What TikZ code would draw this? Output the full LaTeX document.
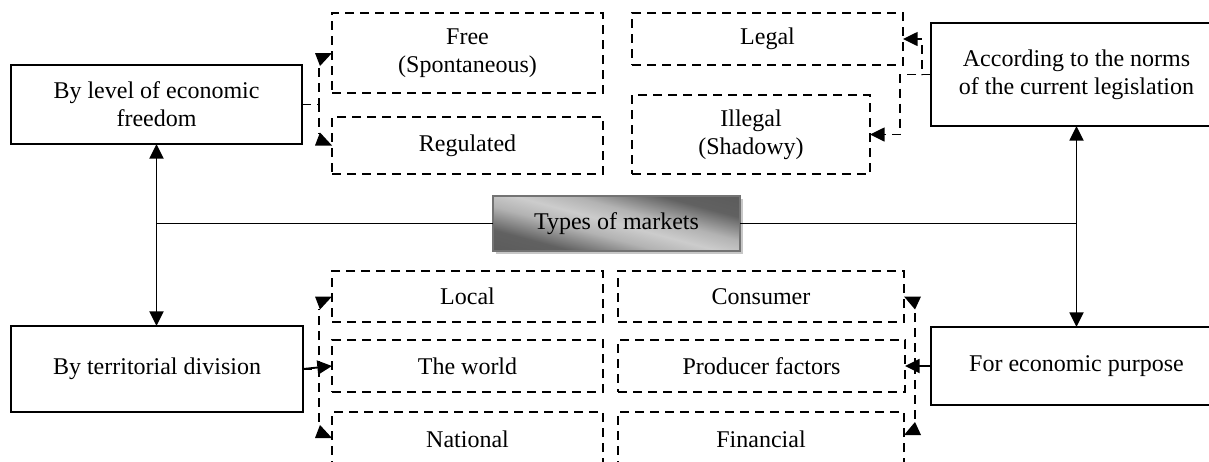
\documentclass[tikz,border=0pt]{standalone}
\usepackage{fontspec}
\setmainfont{Liberation Serif}
\usetikzlibrary{arrows.meta,calc,shadows}
\pgfdeclareverticalshading{typesshade}{100bp}{color(0bp)=(black!68); color(30bp)=(black!62); color(42bp)=(black!30); color(50bp)=(black!20); color(58bp)=(black!30); color(70bp)=(black!62); color(100bp)=(black!68)}
\begin{document}
\begin{tikzpicture}[x=0.75pt,y=-0.75pt,
  every node/.style={font=\fontsize{18}{21}\selectfont, align=center, inner sep=0pt, outer sep=0pt},
  sz/.style 2 args={minimum width={#1*0.75pt}, minimum height={#2*0.75pt}},
  solidbox/.style={draw, line width=1.25pt},
  dashbox/.style={draw, line width=1.15pt, dash pattern=on 6.75pt off 4.5pt},
  dline/.style={line width=1.15pt, dash pattern=on 6.75pt off 4.5pt},
  sline/.style={line width=1.4pt},
  arrowtip/.style={-{Triangle[length=11pt,width=10.5pt]}},
  twotips/.style={{Triangle[length=11pt,width=10.5pt]}-{Triangle[length=11pt,width=10.5pt]}},
  mainbox/.style={draw=black!55, line width=0.9pt, shading=typesshade, shading angle=-15,
    drop shadow={shadow xshift=2.4pt, shadow yshift=-2.4pt, fill=black!22, opacity=1}}
]
\useasboundingbox (0,0) rectangle (1209,461);
\clip (0,0) rectangle (1209,461);

% main categories
\node[solidbox, sz={291}{79}] (level) at (156.5,104.5) {By level of economic\\freedom};
\node[solidbox, sz={291}{103}] (according) at (1076.5,74.5) {According to the norms\\of the current legislation};
\node[solidbox, sz={292}{86}] (territorial) at (157,369) {By territorial division};
\node[solidbox, sz={291}{78}] (purpose) at (1076.5,366) {For economic purpose};

% centre
\node[mainbox, sz={247}{55}] (types) at (616.5,223.5) {Types of markets};

% upper sub-boxes
\node[dashbox, sz={271}{80}] (free) at (467.5,53) {Free\\(Spontaneous)};
\node[dashbox, sz={271}{57}] (regulated) at (467.5,145.5) {Regulated};
\node[dashbox, sz={271}{52}] (legal) at (767.5,39) {Legal};
\node[dashbox, sz={238}{79}] (illegal) at (751,134.5) {Illegal\\(Shadowy)};

% lower sub-boxes
\node[dashbox, sz={271}{51}] (local) at (467.5,296.5) {Local};
\node[dashbox, sz={271}{52}] (world) at (467.5,366) {The world};
\node[dashbox, sz={271}{54}] (national) at (467.5,439) {National};
\node[dashbox, sz={286}{51}] (consumer) at (761,296.5) {Consumer};
\node[dashbox, sz={287}{52}] (producer) at (761.5,366) {Producer factors};
\node[dashbox, sz={286}{54}] (financial) at (761,439) {Financial};

% main connectors
\draw[sline] (types.west) -- (types.west -| level.south);
\draw[sline] (types.east) -- (types.east -| according.south);
\draw[sline, twotips] (level.south) -- (level.south |- territorial.north);
\draw[sline, twotips] (according.south) -- (according.south |- purpose.north);

% level of freedom
\draw[dline] (level.east) -| ($(free.west)+(-13,12)$);
\draw[dline] (level.east) -| ($(regulated.west)+(-13,-12)$);
\fill (free.west) -- ++(-17,0) -- ++(5,13) -- cycle;
\fill (regulated.west) -- ++(-17,0) -- ++(5,-13) -- cycle;

% legislation
\draw[dline, arrowtip] (according.west) -- ++(-9,0) |- (legal.east);
\draw[dline, arrowtip] (according.west) -- ++(-31,0) |- (illegal.east);

% territorial
\draw[dline] (territorial.east) -| ($(local.west)+(-13,12)$);
\draw[dline] (territorial.east) -| ($(national.north west)+(-13,13)$);
\draw[sline, arrowtip] (territorial.east) -- (world.west);
\fill (local.west) -- ++(-17,0) -- ++(5,13) -- cycle;
\fill ($(national.north west)+(0,26)$) -- ++(-17,0) -- ++(5,-13) -- cycle;

% economic purpose
\draw[dline] (purpose.west) -| ($(consumer.east)+(11,12)$);
\draw[dline] (purpose.west) -| ($(financial.north east)+(11,11)$);
\draw[sline, arrowtip] (purpose.west) -- (producer.east);
\fill (consumer.east) -- ++(17,0) -- ++(-6,13) -- cycle;
\fill ($(financial.north east)+(0,23)$) -- ++(17,0) -- ++(-6,-13) -- cycle;
\end{tikzpicture}
\end{document}
